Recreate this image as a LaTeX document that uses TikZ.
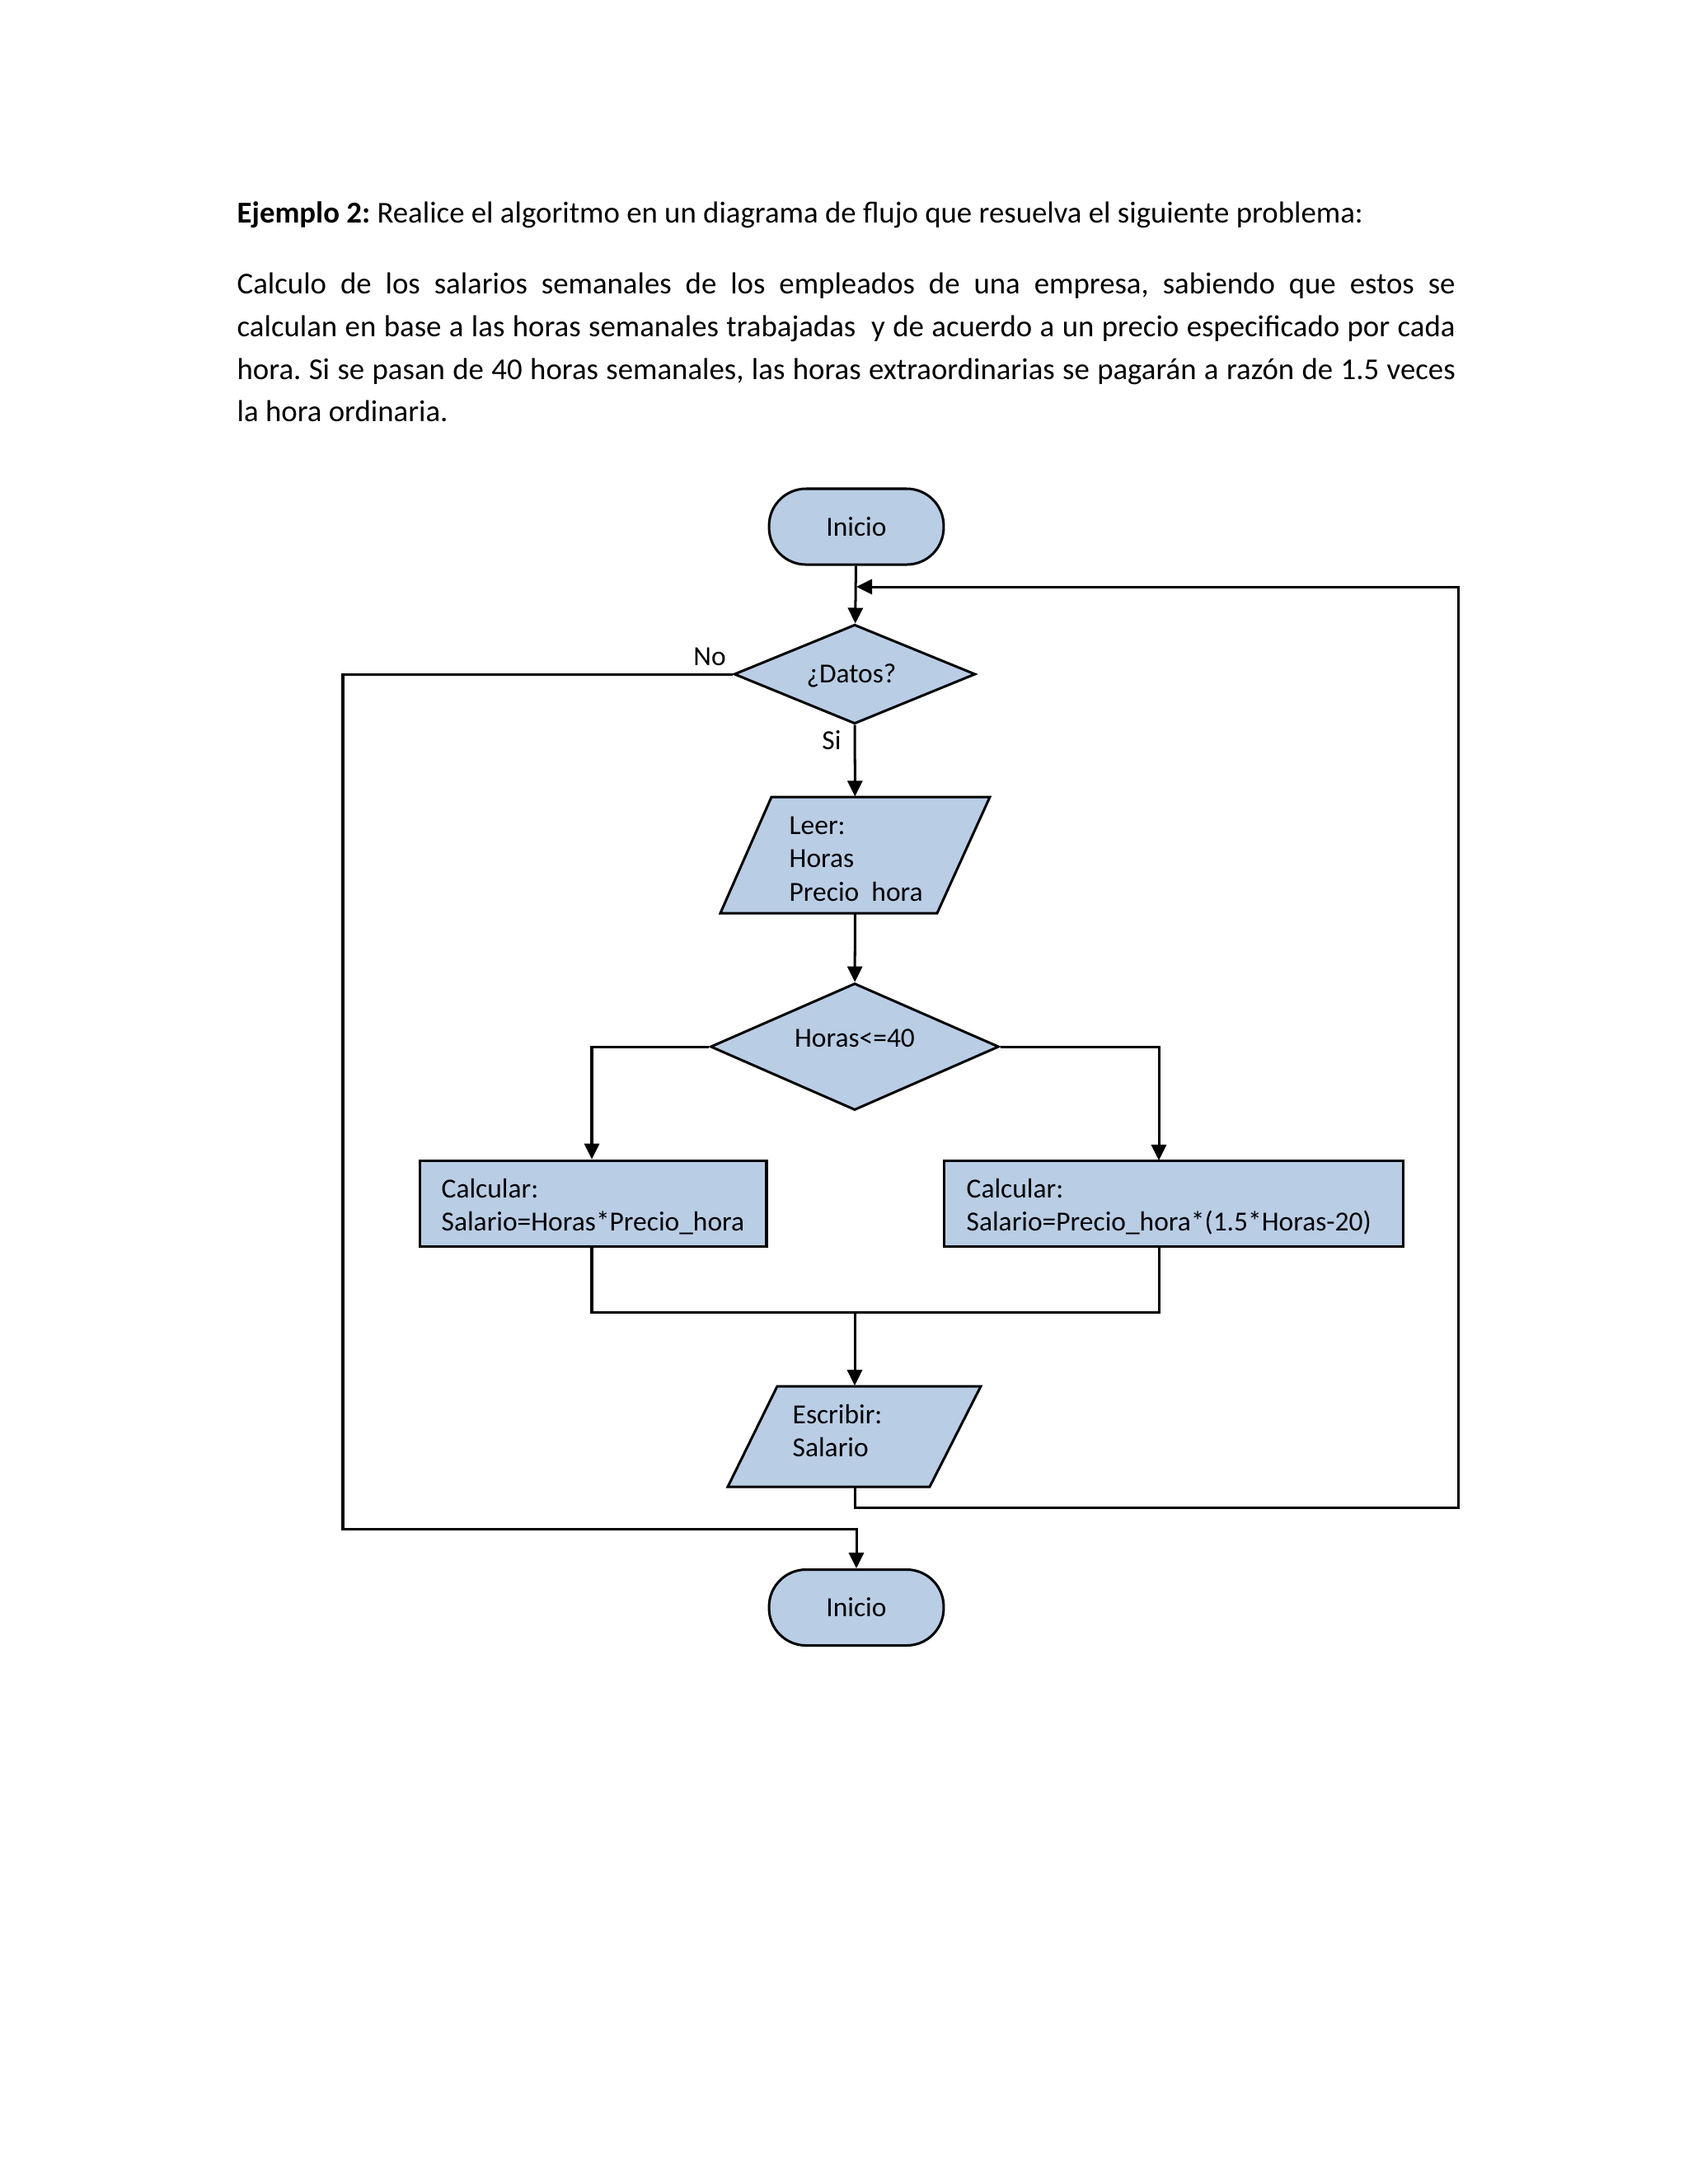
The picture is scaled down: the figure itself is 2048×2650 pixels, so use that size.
\documentclass[tikz,border=0pt]{standalone}
\usepackage{fontspec}
\setmainfont{Carlito}
\usetikzlibrary{shapes.geometric,arrows.meta}
\definecolor{boxblue}{HTML}{B9CDE5}
\frenchspacing
\begin{document}
\begin{tikzpicture}[x=0.298828pt,y=-0.298828pt,
  fchart/.style={draw=black,line width=0.9pt,fill=boxblue},
  small/.style={font=\fontsize{10}{12.2}\selectfont},
  body/.style={font=\fontsize{11}{15.5}\selectfont,anchor=base west,inner sep=0pt},
  term/.style={fchart,rectangle,rounded corners=13.4pt,minimum width=63.3pt,minimum height=27.5pt,inner sep=0pt,small},
  dec/.style={fchart,diamond,aspect=2,inner sep=0pt,small},
  proc/.style={fchart,rectangle,inner sep=0pt},
  ghost/.style={rectangle,inner sep=0pt,draw=none,fill=none},
  lbl/.style={anchor=base west,inner sep=0pt,small},
  conn/.style={line width=0.9pt},
  arr/.style={conn,-{Triangle[length=5.7pt,width=5.4pt]}},
]
\useasboundingbox (0,0) rectangle (2048,2650);

% ---------- text block ----------
\node[body] (title) at (287,270) {\textbf{Ejemplo 2:} Realice el algoritmo en un diagrama de flujo que resuelva el siguiente problema:};
\node[body] (p1) at (287,356) {\makebox[441.7pt][s]{Calculo de los salarios semanales de los empleados de una empresa, sabiendo que estos se}};
\node[body] (p2) at (287,408) {\makebox[441.7pt][s]{calculan en base a las horas semanales trabajadas\ \ y de acuerdo a un precio especificado por cada}};
\node[body] (p3) at (287,460) {\makebox[441.7pt][s]{hora. Si se pasan de 40 horas semanales, las horas extraordinarias se pagarán a razón de 1.5 veces}};
\node[body] (p4) at (287,511) {la hora ordinaria.};

% ---------- flowchart shapes ----------
\node[term] (start) at (1039,639) {Inicio};
\node[dec,minimum width=87.5pt,minimum height=36pt] (datos) at (1037,818) {};
\node[small,anchor=base,inner sep=0pt] (datost) at (1033,828) {¿Datos?};

% Leer parallelogram
\draw[fchart] (936,967) -- (1201,967) -- (1137,1108) -- (874,1108) -- cycle;
\node[ghost,minimum width=97.7pt,minimum height=42.1pt] (leer) at (1037.5,1037.5) {};
\node[lbl] (leer1) at (957,1012) {Leer:};
\node[lbl] (leer2) at (957,1052) {Horas};
\node[lbl] (leer3) at (957,1093) {Precio\ \ hora};

\node[dec,minimum width=104.6pt,minimum height=46pt] (horas) at (1037,1270) {};
\node[small,anchor=base,inner sep=0pt] (horast) at (1037,1270) {Horas<=40};

\node[proc,minimum width=125.8pt,minimum height=31.3pt] (lbox) at (719.5,1460.5) {};
\node[lbl] (lbox1) at (535,1453) {Calcular:};
\node[lbl] (lbox2) at (535,1493) {Salario=Horas*Precio\_hora};

\node[proc,minimum width=166.2pt,minimum height=31.3pt] (rbox) at (1424,1460.5) {};
\node[lbl] (rbox1) at (1172,1453) {Calcular:};
\node[lbl] (rbox2) at (1172,1493) {Salario=Precio\_hora*(1.5*Horas-20)};

% Escribir parallelogram
\draw[fchart] (943,1682) -- (1190,1682) -- (1128,1804) -- (883,1804) -- cycle;
\node[ghost,minimum width=91.7pt,minimum height=36.5pt] (escr) at (1037,1743) {};
\node[lbl] (escr1) at (961,1727) {Escribir:};
\node[lbl] (escr2) at (961,1767) {Salario};

\node[term] (fin) at (1039,1950.5) {Inicio};

% ---------- labels ----------
\node[small,anchor=base,inner sep=0pt] (no) at (861,807) {No};
\node[small,anchor=base,inner sep=0pt] (si) at (1009,909) {Si};

% ---------- connectors ----------
\coordinate (rin) at (1406,1408);
\coordinate (jl) at (718,1592);
\coordinate (jr) at (1406,1592);
\coordinate (join) at (1037,1592);
\coordinate (loopb) at (1769,1829);
\coordinate (loopt) at (1769,712);
\coordinate (nol) at (416,1855);

\draw[arr] (start) -- (datos);
\draw[arr] (datos) -- (leer);
\draw[arr] (leer) -- (horas);
\draw[arr] (horas.west) -| (jl |- lbox.north);
\draw[arr] (horas.east) -| (rin);
\draw[conn] (jl |- lbox.south) -- (jl) -- (jr) -- (jr |- rbox.south);
\draw[arr] (join) -- (escr);
\draw[arr] (escr.south) -- (escr.south |- loopb) -- (loopb) -- (loopt) -- (loopt -| start.south);
\draw[arr] (datos.west) -- (datos.west -| nol) -- (nol) -- (nol -| fin) -- (fin);
\end{tikzpicture}
\end{document}
